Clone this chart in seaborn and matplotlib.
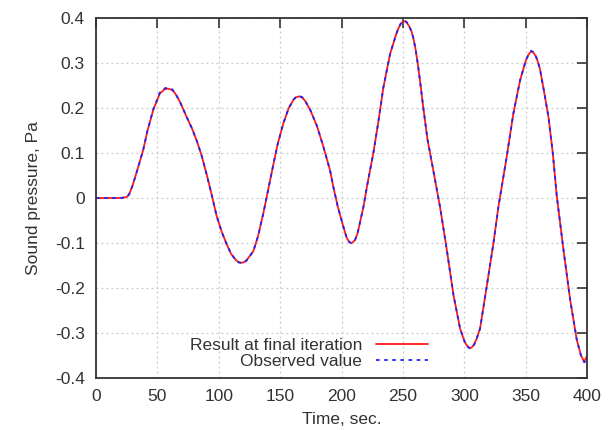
import numpy as np
import pandas as pd
import matplotlib
matplotlib.use('Agg')
import matplotlib.pyplot as plt
import seaborn as sns

#---- dados
tempo = [0, 20, 25, 27, 30, 34, 38.5, 42, 46.7, 52, 56, 59, 62, 64.4, 68.4, 73.9, 78, 82, 86, 90.2,
         94, 98.3, 102.4, 106.5, 110, 114, 116, 118.7, 121, 123, 128.2, 132, 136.3, 140, 144.5, 148,
         152.6, 157, 161, 163, 165.6, 168, 170, 174.3, 180, 185.2, 190.6, 193.3, 197, 201.5, 204, 206,
         207.5, 209, 211, 213, 217.8, 221, 225.9, 230, 234, 239.5, 244, 246, 248, 250, 251.7, 253,
         255, 257, 258.5, 260, 262, 264, 266.6, 270, 274.8, 280.2, 285.7, 291.1, 296.5, 300, 302,
         304.7, 306, 308, 310, 312.8, 318, 323.7, 327.7, 334.5, 339.9, 345.4, 350, 352, 354.4, 356,
         358, 360, 361.7, 365, 368.5, 372, 375.3, 380.7, 386.2, 391.6, 395, 397.6, 400]

resultado = [0, 0, 0.002, 0.008, 0.029, 0.065, 0.107, 0.15, 0.196, 0.232, 0.242, 0.243, 0.240, 0.233,
             0.214, 0.18, 0.156, 0.128, 0.095, 0.052, 0.01, -0.04, -0.075, -0.103, -0.124, -0.138,
             -0.142, -0.144, -0.142, -0.137, -0.118, -0.085, -0.034, 0.015, 0.075, 0.12, 0.166, 0.2,
             0.219, 0.224, 0.226, 0.223, 0.217, 0.197, 0.16, 0.114, 0.062, 0.025, -0.02, -0.064,
             -0.087, -0.097, -0.1, -0.099, -0.093, -0.079, -0.02, 0.03, 0.1, 0.17, 0.245, 0.32, 0.36,
             0.375, 0.386, 0.392, 0.393, 0.39, 0.382, 0.37, 0.355, 0.335, 0.3, 0.258, 0.2, 0.13, 0.06,
             -0.02, -0.115, -0.215, -0.29, -0.318, -0.328, -0.334, -0.332, -0.325, -0.313, -0.29,
             -0.2, -0.1, -0.02, 0.092, 0.188, 0.262, 0.305, 0.318, 0.326, 0.324, 0.316, 0.302, 0.285,
             0.235, 0.18, 0.1, 0.003, -0.115, -0.227, -0.316, -0.35, -0.364, -0.35]

observado = [0, 0, 0.002, 0.008, 0.029, 0.065, 0.107, 0.15, 0.197, 0.234, 0.244, 0.245, 0.242, 0.234,
             0.214, 0.18, 0.156, 0.128, 0.095, 0.052, 0.01, -0.04, -0.075, -0.103, -0.124, -0.138,
             -0.143, -0.145, -0.143, -0.138, -0.118, -0.085, -0.034, 0.015, 0.075, 0.12, 0.166, 0.2,
             0.219, 0.225, 0.227, 0.224, 0.218, 0.197, 0.16, 0.114, 0.062, 0.025, -0.02, -0.064,
             -0.087, -0.097, -0.1, -0.099, -0.093, -0.079, -0.02, 0.03, 0.1, 0.17, 0.245, 0.32, 0.36,
             0.376, 0.387, 0.393, 0.394, 0.391, 0.383, 0.37, 0.355, 0.335, 0.3, 0.258, 0.2, 0.13, 0.06,
             -0.02, -0.115, -0.215, -0.29, -0.318, -0.329, -0.335, -0.333, -0.326, -0.313, -0.29,
             -0.2, -0.1, -0.02, 0.092, 0.188, 0.262, 0.305, 0.318, 0.327, 0.325, 0.317, 0.302, 0.285,
             0.235, 0.18, 0.1, 0.003, -0.115, -0.227, -0.316, -0.351, -0.365, -0.363]

x_ticks = [0, 50, 100, 150, 200, 250, 300, 350, 400]
y_ticks = [-0.4, -0.3, -0.2, -0.1, 0, 0.1, 0.2, 0.3, 0.4]
y_labels = ['-0.4', '-0.3', '-0.2', '-0.1', '0', '0.1', '0.2', '0.3', '0.4']

df = pd.DataFrame({'Tempo': tempo, 'Resultado': resultado, 'Observado': observado})

#---- estilo
sns.set_style('white')
plt.rcParams['font.family'] = ['Liberation Sans', 'DejaVu Sans']

fig, ax = plt.subplots(figsize=(6.11, 4.30), dpi=100)
fig.subplots_adjust(left=0.157, right=0.961, top=0.958, bottom=0.121)

sns.lineplot(data=df, x='Tempo', y='Resultado', ax=ax, color='#ff1a1a', linewidth=1.3,
             label='Result at final iteration')
sns.lineplot(data=df, x='Tempo', y='Observado', ax=ax, color='#2222ff', linewidth=1.3,
             dashes=False, label='Observed value')
ax.lines[1].set_dashes([2, 2.5])

ax.set_xlim(0, 400)
ax.set_ylim(-0.4, 0.4)
ax.set_xticks(x_ticks)
ax.set_yticks(y_ticks)
ax.set_yticklabels(y_labels)
ax.grid(True, color='#c8c8c8', linestyle=(0, (1.5, 2.5)), linewidth=0.9)
ax.tick_params(direction='in', length=7, width=1.2, top=True, right=True,
               labelsize=12.5, colors='#333333', pad=8)
for s in ax.spines.values():
    s.set_color('#333333')
    s.set_linewidth(1.3)

ax.set_xlabel('Time, sec.', fontsize=12.5, color='#333333', labelpad=6)
ax.set_ylabel('Sound pressure, Pa', fontsize=12.5, color='#333333', labelpad=10)

leg = ax.legend(loc='lower left', bbox_to_anchor=(0.17, -0.005), frameon=False, markerfirst=False,
                fontsize=12.5, handlelength=3.0, handletextpad=0.8, labelspacing=0.05,
                borderaxespad=0.2)
for t in leg.get_texts():
    t.set_ha('right')
    t.set_color('#333333')

plt.savefig('out.png', dpi=100)
